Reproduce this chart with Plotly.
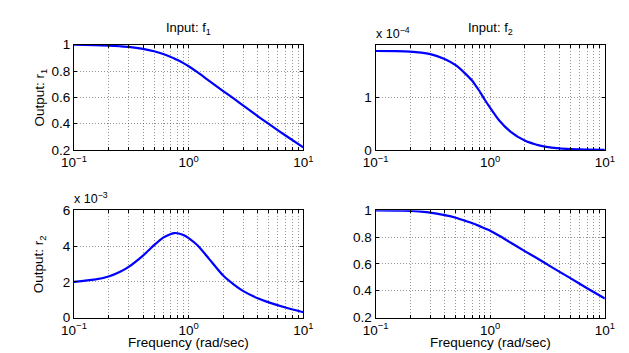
import plotly.graph_objects as go

# ---------------- data ----------------
freq = [0.1, 0.15, 0.2, 0.25, 0.3, 0.4, 0.5, 0.6, 0.7, 0.75, 0.8, 0.9, 1.0, 1.2, 1.5, 2.0, 2.5, 3.0, 4.0, 5.0, 7.0, 10.0]
r1_f1 = [1.0, 0.997, 0.993, 0.988, 0.983, 0.968, 0.950, 0.929, 0.907, 0.895, 0.883, 0.860, 0.836, 0.789,
         0.727, 0.648, 0.588, 0.537, 0.458, 0.398, 0.310, 0.220]
r1_f2 = [1.88e-4, 1.877e-4, 1.87e-4, 1.85e-4, 1.82e-4, 1.73e-4, 1.61e-4, 1.46e-4, 1.31e-4, 1.22e-4, 1.13e-4,
         0.95e-4, 0.80e-4, 0.56e-4, 0.35e-4, 0.18e-4, 0.105e-4, 0.065e-4, 0.03e-4, 0.018e-4, 0.009e-4, 0.005e-4]
r2_f1 = [2.0e-3, 2.12e-3, 2.30e-3, 2.55e-3, 2.84e-3, 3.47e-3, 4.05e-3, 4.47e-3, 4.68e-3, 4.73e-3, 4.72e-3,
         4.62e-3, 4.45e-3, 4.03e-3, 3.30e-3, 2.35e-3, 1.83e-3, 1.48e-3, 1.08e-3, 0.85e-3, 0.56e-3, 0.30e-3]
r2_f2 = [1.0, 0.998, 0.995, 0.990, 0.983, 0.964, 0.945, 0.923, 0.904, 0.894, 0.884, 0.865, 0.848, 0.810,
         0.760, 0.696, 0.648, 0.607, 0.543, 0.494, 0.419, 0.342]

col_titles = ["Input: f<sub>1</sub>", "Input: f<sub>2</sub>"]
row_titles = ["Output: r<sub>1</sub>", "Output: r<sub>2</sub>"]
xlabel = "Frequency (rad/sec)"

FONT = "Liberation Sans, Arial, Helvetica, sans-serif"
W, H = 629, 353

xdom = [(55 / W, 293 / W), (368 / W, 606 / W)]
ydom = [((H - 141) / H, (H - 31) / H), ((H - 316) / H, (H - 204) / H)]

fig = go.Figure()

xt_vals = [m * 10 ** e for e in (-1, 0) for m in range(1, 10)] + [10]
xt_text = []
for v in xt_vals:
    if abs(v - 0.1) < 1e-9:
        xt_text.append("10<sup>−1</sup>")
    elif abs(v - 1) < 1e-9:
        xt_text.append("10<sup>0</sup>")
    elif abs(v - 10) < 1e-9:
        xt_text.append("10<sup>1</sup>")
    else:
        xt_text.append("")

panels = [
    # (row, col, values, scale, yrange, ytickvals, yticktext)
    (0, 0, r1_f1, 1.0, [0.2, 1.0], [0.2, 0.4, 0.6, 0.8, 1.0], ["0.2", "0.4", "0.6", "0.8", "1"]),
    (0, 1, r1_f2, 1e-4, [0, 2.0], [0, 1], ["0", "1"]),
    (1, 0, r2_f1, 1e-3, [0, 6], [0, 2, 4, 6], ["0", "2", "4", "6"]),
    (1, 1, r2_f2, 1.0, [0.2, 1.0], [0.2, 0.4, 0.6, 0.8, 1.0], ["0.2", "0.4", "0.6", "0.8", "1"]),
]

for i, (r, c, vals, scale, yr, ytv, ytt) in enumerate(panels):
    k = "" if i == 0 else str(i + 1)
    fig.add_trace(go.Scatter(
        x=freq, y=[v / scale for v in vals], mode="lines",
        line=dict(color="rgb(0,0,255)", width=2.2, shape="spline", smoothing=0.6),
        xaxis="x" + k, yaxis="y" + k, showlegend=False, hoverinfo="skip"))
    axis_common = dict(showline=True, mirror="ticks", linecolor="black", linewidth=1,
                       ticks="inside", ticklen=3, tickcolor="black",
                       showgrid=True, gridcolor="rgba(60,60,60,0.55)", griddash="1px,2px", gridwidth=1,
                       zeroline=False, tickfont=dict(family=FONT, size=13.5, color="black"))
    fig.layout["xaxis" + k] = dict(axis_common, type="log", range=[-1, 1], domain=xdom[c],
                                   anchor="y" + k, tickvals=xt_vals, ticktext=xt_text)
    fig.layout["yaxis" + k] = dict(axis_common, range=yr, domain=ydom[r], anchor="x" + k,
                                   tickvals=ytv, ticktext=ytt)

ann = []
# column titles
for c in range(2):
    ann.append(dict(text=col_titles[c], x=(xdom[c][0] + xdom[c][1]) / 2, y=(H - 3) / H,
                    xref="paper", yref="paper", xanchor="center", yanchor="top", showarrow=False,
                    font=dict(family=FONT, size=13, color="black")))
# row titles
for r in range(2):
    ann.append(dict(text=row_titles[r], x=20 / W, y=(ydom[r][0] + ydom[r][1]) / 2,
                    xref="paper", yref="paper", xanchor="center", yanchor="middle", textangle=-90,
                    showarrow=False, font=dict(family=FONT, size=13.5, color="black")))
# x labels
for c in range(2):
    ann.append(dict(text=xlabel, x=(xdom[c][0] + xdom[c][1]) / 2, y=1 / H,
                    xref="paper", yref="paper", xanchor="center", yanchor="bottom", showarrow=False,
                    font=dict(family=FONT, size=13.5, color="black")))
# exponent labels
ann.append(dict(text="x 10<sup>−4</sup>", x=xdom[1][0] - 2 / W, y=(H - 29) / H, xref="paper", yref="paper",
                xanchor="left", yanchor="bottom", showarrow=False,
                font=dict(family=FONT, size=12.5, color="black")))
ann.append(dict(text="x 10<sup>−3</sup>", x=xdom[0][0] - 2 / W, y=(H - 202) / H, xref="paper", yref="paper",
                xanchor="left", yanchor="bottom", showarrow=False,
                font=dict(family=FONT, size=12.5, color="black")))

fig.update_layout(width=W, height=H, margin=dict(l=0, r=0, t=0, b=0),
                  paper_bgcolor="white", plot_bgcolor="white", annotations=ann,
                  font=dict(family=FONT, size=13, color="black"))

fig.write_html("out.html")
